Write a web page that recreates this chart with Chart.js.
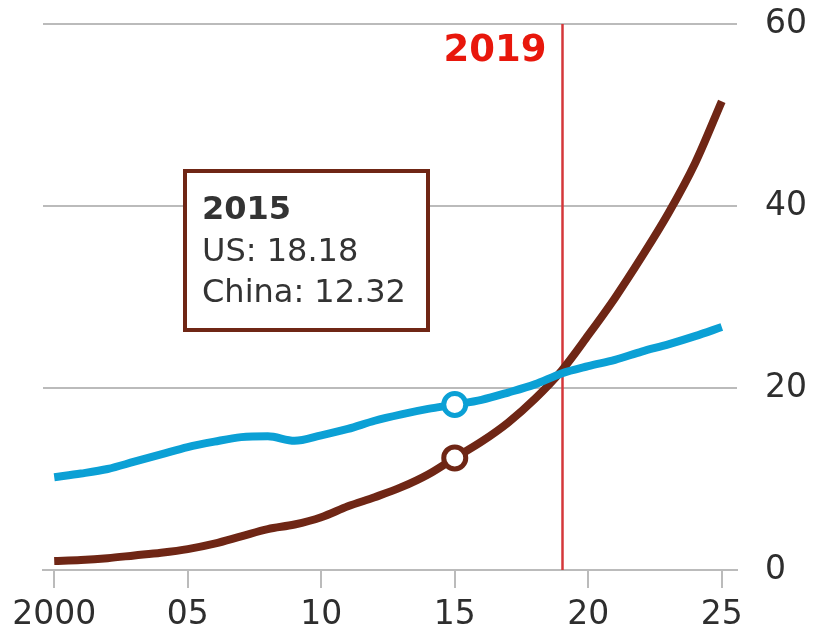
<!DOCTYPE html>
<html>
<head>
<meta charset="utf-8">
<script src="https://cdn.jsdelivr.net/npm/chart.js@4"></script>
<style>
  html, body { margin: 0; padding: 0; background: #fff; }
  #wrap { width: 815px; height: 632px; position: relative; }
</style>
</head>
<body>
<div id="wrap"><canvas id="c" width="815" height="632"></canvas></div>
<script>
// ---- data ----
const years = [2000,2001,2002,2003,2004,2005,2006,2007,2008,2009,2010,2011,2012,2013,2014,2015,2016,2017,2018,2019,2020,2021,2022,2023,2024,2025];
const usValues = [10.2,10.6,11.1,11.9,12.7,13.5,14.1,14.6,14.7,14.2,14.8,15.5,16.4,17.1,17.7,18.18,18.7,19.5,20.4,21.6,22.4,23.1,24.0,24.8,25.7,26.7];
const chinaValues = [1.0,1.1,1.3,1.6,1.9,2.3,2.9,3.7,4.5,5.0,5.8,7.0,8.0,9.1,10.5,12.32,14.1,16.2,18.8,21.9,25.8,29.9,34.4,39.2,44.7,51.5];
const seriesNames = ["US", "China"];
const xTickValues = [2000, 2005, 2010, 2015, 2020, 2025];
const yTickValues = [0, 20, 40, 60];
const markerYear = 2019;
const tooltipYear = 2015;

const BLUE = '#0ba0d5';
const BROWN = '#6f2615';
const FONT = "'DejaVu Sans', Verdana, sans-serif";
const hoverIdx = years.indexOf(tooltipYear);

const pts = arr => years.map((y, i) => ({x: y, y: arr[i]}));

const markerPlugin = {
  id: 'marker',
  beforeDatasetsDraw(chart) {
    const {ctx, scales: {x, y}} = chart;
    const px = Math.round(x.getPixelForValue(markerYear)) + 0.5;
    ctx.save();
    ctx.strokeStyle = '#d4373a';
    ctx.lineWidth = 2.5;
    ctx.beginPath();
    ctx.moveTo(px, y.getPixelForValue(60));
    ctx.lineTo(px, y.getPixelForValue(0));
    ctx.stroke();
    ctx.fillStyle = '#e8170c';
    ctx.font = "bold 37px " + FONT;
    ctx.textAlign = 'right';
    ctx.textBaseline = 'middle';
    ctx.fillText(String(markerYear), px - 16, 51);
    ctx.restore();
  },
  afterDatasetsDraw(chart) {
    const {ctx} = chart;
    const bx = 185, by = 171, bw = 243, bh = 159;
    ctx.save();
    ctx.fillStyle = '#ffffff';
    ctx.fillRect(bx, by, bw, bh);
    ctx.strokeStyle = BROWN;
    ctx.lineWidth = 4;
    ctx.strokeRect(bx, by, bw, bh);
    ctx.fillStyle = '#333333';
    ctx.textAlign = 'left';
    ctx.textBaseline = 'middle';
    ctx.font = "bold 32px " + FONT;
    ctx.fillText(String(tooltipYear), bx + 17, by + 40);
    ctx.font = "32px " + FONT;
    ctx.fillText(seriesNames[0] + ': ' + usValues[hoverIdx].toFixed(2), bx + 17, by + 82);
    ctx.fillText(seriesNames[1] + ': ' + chinaValues[hoverIdx].toFixed(2), bx + 17, by + 123);
    ctx.restore();
  }
};

const pointR = ctx => ctx.dataIndex === hoverIdx ? 11 : 0;

new Chart(document.getElementById('c'), {
  type: 'line',
  data: {
    datasets: [
      {
        label: seriesNames[1],
        data: pts(chinaValues),
        borderColor: BROWN,
        borderWidth: 8,
        backgroundColor: '#fff',
        pointRadius: pointR,
        pointBorderWidth: 5,
        pointBorderColor: BROWN,
        pointBackgroundColor: '#fff',
        cubicInterpolationMode: 'monotone',
        order: 2
      },
      {
        label: seriesNames[0],
        data: pts(usValues),
        borderColor: BLUE,
        borderWidth: 8,
        backgroundColor: '#fff',
        pointRadius: pointR,
        pointBorderWidth: 5,
        pointBorderColor: BLUE,
        pointBackgroundColor: '#fff',
        cubicInterpolationMode: 'monotone',
        order: 1
      }
    ]
  },
  options: {
    responsive: false,
    animation: false,
    events: [],
    layout: { padding: { left: 43, top: 24, right: 0, bottom: 0 } },
    plugins: { legend: { display: false }, tooltip: { enabled: false } },
    scales: {
      x: {
        type: 'linear',
        min: 1999.58,
        max: 2025.57,
        afterBuildTicks: s => { s.ticks = xTickValues.map(v => ({value: v})); },
        afterFit: s => { s.height = 62; s.paddingLeft = 0; s.paddingRight = 0; },
        grid: { drawOnChartArea: false, drawTicks: true, tickLength: 18, color: '#bbbbbb', lineWidth: 2 },
        border: { display: true, color: '#bbbbbb', width: 2 },
        ticks: {
          padding: 8,
          color: '#2e2e2e',
          font: { family: FONT, size: 33 },
          maxRotation: 0,
          callback: v => v === 2000 ? '2000' : String(v % 100).padStart(2, '0')
        }
      },
      y: {
        position: 'right',
        min: 0,
        max: 60,
        afterBuildTicks: s => { s.ticks = yTickValues.map(v => ({value: v})); },
        afterFit: s => { s.width = 78; s.paddingTop = 0; s.paddingBottom = 0; },
        grid: { drawTicks: false, color: '#bbbbbb', lineWidth: 2 },
        border: { display: false },
        ticks: {
          padding: 28,
          color: '#2e2e2e',
          font: { family: FONT, size: 33 }
        }
      }
    }
  },
  plugins: [markerPlugin]
});
</script>
</body>
</html>
